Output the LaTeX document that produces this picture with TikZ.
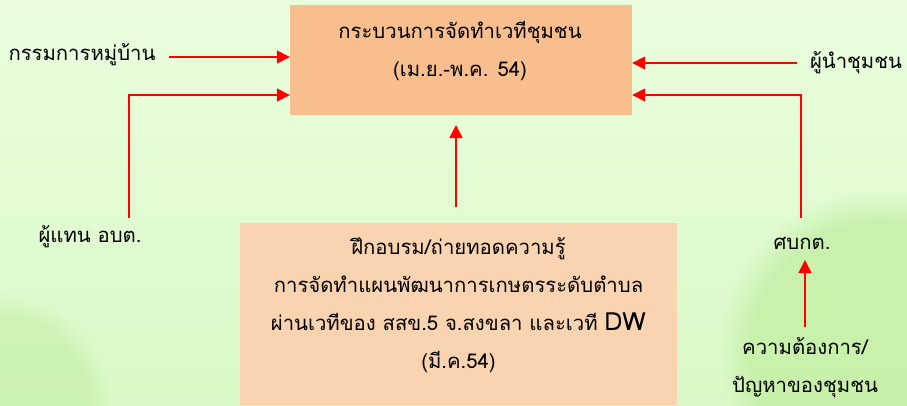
\documentclass[tikz,border=0pt]{standalone}
\usepackage{fontspec}
\newfontfamily\thai[Script=Thai]{Loma}
\usetikzlibrary{arrows.meta,fadings}
\definecolor{bgtop}{RGB}{234,254,222}
\definecolor{bgbot}{RGB}{218,248,198}
\definecolor{blob}{RGB}{192,238,160}
\definecolor{topfill}{RGB}{249,190,142}
\definecolor{botfill}{RGB}{250,211,176}
\definecolor{arrred}{RGB}{255,0,0}
\tikzset{
  lbl/.style={font=\thai\fontsize{20.3}{38}\selectfont, align=center, inner sep=0pt, text=black},
  boxtop/.style={fill=topfill, draw=none, minimum width=342pt, minimum height=110pt, inner sep=0pt},
  boxbot/.style={fill=botfill, draw=none, minimum width=437pt, minimum height=182pt, inner sep=0pt},
  arr/.style={draw=arrred, line width=1.6pt, -{Triangle[length=13pt,width=13pt]}},
}
\begin{document}
\begin{tikzpicture}[x=1pt,y=-1pt]
\useasboundingbox (0,0) rectangle (907,405);
% background
\shade[top color=bgtop, bottom color=bgbot] (0,0) rectangle (907,405);
\fill[blob, path fading=circle with fuzzy edge 20 percent, opacity=0.7] (880,350) circle (160pt);
\fill[blob, path fading=circle with fuzzy edge 20 percent, opacity=0.5] (0,405) circle (110pt);
% boxes
\node[boxtop] (top) at (461,60) {};
\node[boxbot] (bot) at (458.5,314) {};
\node[lbl] (toptext) at (460,51) {กระบวนการจัดทำเวทีชุมชน\\(เม.ย.-พ.ค. 54)};
\node[lbl] (bottext) at (458.5,305) {ฝึกอบรม/ถ่ายทอดความรู้\\การจัดทำแผนพัฒนาการเกษตรระดับตำบล\\ผ่านเวทีของ สสข.5 จ.สงขลา และเวที {\fontsize{25}{38}\selectfont DW}\\(มี.ค.54)};
% labels
\node[lbl] (kamakan) at (82,55) {กรรมการหมู่บ้าน};
\node[lbl] (phuthaen) at (90,237) {ผู้แทน อบต.};
\node[lbl] (phunam) at (856,63) {ผู้นำชุมชน};
\node[lbl] (sobkot) at (802,243) {ศบกต.};
\node[lbl] (need) at (805,368) {ความต้องการ/\\ปัญหาของชุมชน};
% connectors
\coordinate (a1s) at (169,57);
\draw[arr] (a1s) -- (a1s -| top.west);
\coordinate (a2s) at (129,218);
\coordinate (rowb) at (0,95);
\draw[arr] (a2s) |- (top.west |- rowb);
\coordinate (a3s) at (797,63);
\draw[arr] (a3s) -- (a3s -| top.east);
\coordinate (a4s) at (801,218);
\draw[arr] (a4s) |- (top.east |- rowb);
\coordinate (a5s) at (456,207);
\coordinate (a5e) at (456,125);
\draw[arr] (a5s) -- (a5e);
\coordinate (a6s) at (805,327);
\coordinate (a6e) at (805,260);
\draw[arr] (a6s) -- (a6e);
\end{tikzpicture}
\end{document}
